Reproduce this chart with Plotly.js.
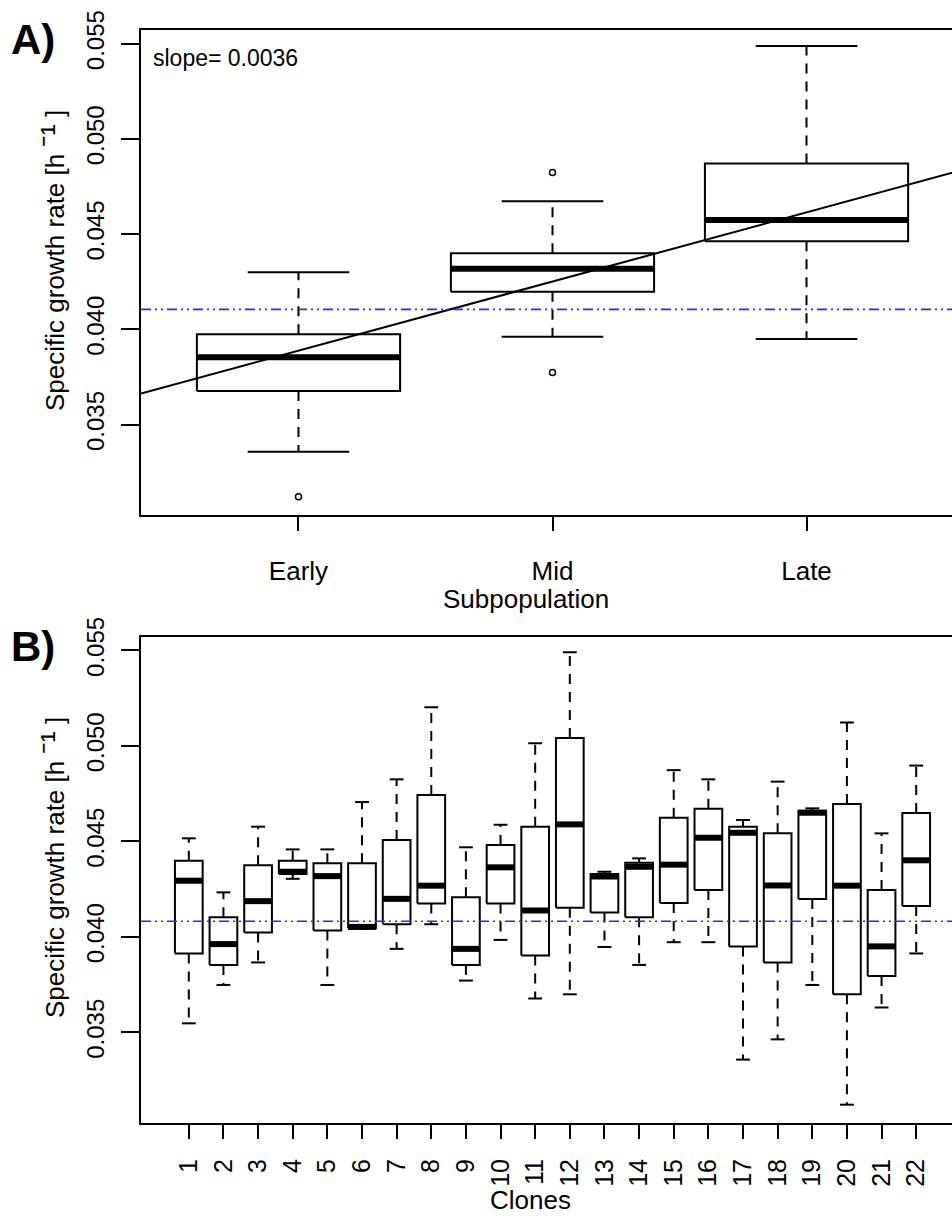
<!DOCTYPE html>
<html>
<head>
<meta charset="utf-8">
<script src="https://cdn.plot.ly/plotly-3.0.1.min.js"></script>
<style>
  html, body { margin: 0; padding: 0; overflow: hidden; background: #fff; }
  #chart { width: 1000px; height: 1222px; }
</style>
</head>
<body>
<div id="chart"></div>
<script>
// ---------- Panel A data: subpopulations ----------
const subpopulations = ["Early", "Mid", "Late"];
const subLower  = [0.03357, 0.03961, 0.03949];
const subQ1     = [0.03676, 0.04197, 0.04463];
const subMedian = [0.03853, 0.04318, 0.04574];
const subQ3     = [0.03974, 0.04399, 0.04871];
const subUpper  = [0.04300, 0.04673, 0.05488];
const subOutlierGroup = ["Early", "Mid", "Mid"];
const subOutlierValue = [0.03121, 0.04824, 0.03774];
const slopeValue = 0.00363;
const interceptValue = 0.03525;
const slopeLabel = "slope= 0.0036";
const meanA = 0.04105;

// ---------- Panel B data: clones ----------
const clones = ["1","2","3","4","5","6","7","8","9","10","11","12","13","14","15","16","17","18","19","20","21","22"];
const cloneUpper  = [0.04516,0.04233,0.04577,0.04458,0.04458,0.04706,0.04825,0.05203,0.04469,0.04587,0.05014,0.05490,0.04341,0.04411,0.04873,0.04825,0.04612,0.04813,0.04673,0.05122,0.04542,0.04897];
const cloneQ3     = [0.04399,0.04102,0.04375,0.04399,0.04385,0.04385,0.04507,0.04743,0.04208,0.04481,0.04577,0.05041,0.04329,0.04388,0.04624,0.04671,0.04577,0.04542,0.04661,0.04696,0.04245,0.04649];
const cloneMedian = [0.04294,0.03962,0.04187,0.04341,0.04318,0.04052,0.04199,0.04268,0.03937,0.04364,0.04138,0.04589,0.04316,0.04367,0.04378,0.04519,0.04545,0.04269,0.04650,0.04268,0.03950,0.04401];
const cloneQ1     = [0.03913,0.03853,0.04023,0.04329,0.04033,0.04045,0.04066,0.04175,0.03853,0.04175,0.03902,0.04152,0.04128,0.04103,0.04177,0.04245,0.03950,0.03866,0.04198,0.03699,0.03795,0.04162];
const cloneLower  = [0.03547,0.03748,0.03866,0.04304,0.03748,0.04045,0.03937,0.04066,0.03771,0.03984,0.03677,0.03699,0.03947,0.03853,0.03972,0.03972,0.03357,0.03463,0.03748,0.03121,0.03630,0.03913];
const meanB = 0.04082;

// ---------- tick labels / titles ----------
const yTickVals = [0.035, 0.040, 0.045, 0.050, 0.055];
const yTickText = ["0.035", "0.040", "0.045", "0.050", "0.055"];
const yTitle = "Specific growth rate [h <span style=\"font-size:34px\">\u207B\u00B9</span> ]";

// ---------- layout geometry ----------
const W = 1000, H = 1222, ML = 141, MR = 36, MT = 30, MB = 99;
const PW = W - ML - MR, PH = H - MT - MB;
const px2x = p => (p - ML) / PW;
const px2y = p => (H - MB - p) / PH;
const FONT = "Liberation Sans, Arial, Helvetica, sans-serif";
const yRange = [0.03025, 0.05572];
const xRangeA = [0.38, 3.62];
const xRangeB = [-0.38, 23.38];
const BOX_HALF = 0.4, CAP_HALF = 0.2;

function boxTraces(cats, lower, q1, med, q3, upper, xa, ya) {
  const rx = [], ry = [], wx = [], wy = [], cx = [], cy = [], mx = [], my = [];
  cats.forEach((c, i) => {
    const p = i + 1;
    rx.push(p - BOX_HALF, p + BOX_HALF, p + BOX_HALF, p - BOX_HALF, p - BOX_HALF, null);
    ry.push(q1[i], q1[i], q3[i], q3[i], q1[i], null);
    wx.push(p, p, null, p, p, null);
    wy.push(q3[i], upper[i], null, q1[i], lower[i], null);
    cx.push(p - CAP_HALF, p + CAP_HALF, null, p - CAP_HALF, p + CAP_HALF, null);
    cy.push(upper[i], upper[i], null, lower[i], lower[i], null);
    mx.push(p - BOX_HALF, p + BOX_HALF, null);
    my.push(med[i], med[i], null);
  });
  const base = {type: "scatter", mode: "lines", xaxis: xa, yaxis: ya, hoverinfo: "skip", showlegend: false};
  return [
    Object.assign({}, base, {x: wx, y: wy, line: {color: "black", width: 2, dash: "10px,8px"}}),
    Object.assign({}, base, {x: cx, y: cy, line: {color: "black", width: 2}}),
    Object.assign({}, base, {x: rx, y: ry, line: {color: "black", width: 2}}),
    Object.assign({}, base, {x: mx, y: my, line: {color: "black", width: 6}})
  ];
}

const traces = [];
traces.push(...boxTraces(subpopulations, subLower, subQ1, subMedian, subQ3, subUpper, "x", "y"));
traces.push({
  type: "scatter", mode: "markers", xaxis: "x", yaxis: "y", showlegend: false,
  x: subOutlierGroup.map(g => subpopulations.indexOf(g) + 1), y: subOutlierValue,
  marker: {symbol: "circle-open", size: 6, color: "black", line: {width: 1.5, color: "black"}}
});
traces.push({
  type: "scatter", mode: "lines", xaxis: "x", yaxis: "y", showlegend: false,
  x: xRangeA, y: xRangeA.map(v => interceptValue + slopeValue * v),
  line: {color: "black", width: 2}
});
traces.push({
  type: "scatter", mode: "lines", xaxis: "x", yaxis: "y", showlegend: false,
  x: xRangeA, y: [meanA, meanA],
  line: {color: "#2a2aff", width: 1.6, dash: "10px,4px,2px,4px,2px,4px"}
});
traces.push(...boxTraces(clones, cloneLower, cloneQ1, cloneMedian, cloneQ3, cloneUpper, "x2", "y2"));
traces.push({
  type: "scatter", mode: "lines", xaxis: "x2", yaxis: "y2", showlegend: false,
  x: xRangeB, y: [meanB, meanB],
  line: {color: "#2a2aff", width: 1.6, dash: "10px,4px,2px,4px,2px,4px"}
});

const axisCommon = {
  showline: true, mirror: true, linewidth: 2, linecolor: "black",
  ticks: "outside", tickwidth: 2, tickcolor: "black",
  showgrid: false, zeroline: false, fixedrange: true
};

const layout = {
  width: W, height: H,
  margin: {l: ML, r: MR, t: MT, b: MB},
  paper_bgcolor: "white", plot_bgcolor: "white",
  showlegend: false,
  font: {family: FONT, size: 24, color: "black"},
  xaxis: Object.assign({}, axisCommon, {
    domain: [0, 1], anchor: "y", range: xRangeA,
    tickmode: "array", tickvals: [1, 2, 3], ticktext: subpopulations,
    ticklen: 14, ticklabelstandoff: 18,
    tickfont: {family: FONT, size: 26, color: "black"}
  }),
  yaxis: Object.assign({}, axisCommon, {
    domain: [px2y(515), 1], anchor: "x", range: yRange,
    tickmode: "array", tickvals: yTickVals, ticktext: yTickText,
    tickangle: -90, ticklen: 18, ticklabelstandoff: 7,
    tickfont: {family: FONT, size: 24, color: "black"}
  }),
  xaxis2: Object.assign({}, axisCommon, {
    domain: [0, 1], anchor: "y2", range: xRangeB,
    tickmode: "array", tickvals: clones.map((c, i) => i + 1), ticktext: clones,
    tickangle: -90, ticklen: 14, ticklabelstandoff: 10,
    tickfont: {family: FONT, size: 25, color: "black"}
  }),
  yaxis2: Object.assign({}, axisCommon, {
    domain: [0, px2y(636.7)], anchor: "x2", range: yRange,
    tickmode: "array", tickvals: yTickVals, ticktext: yTickText,
    tickangle: -90, ticklen: 18, ticklabelstandoff: 7,
    tickfont: {family: FONT, size: 24, color: "black"}
  }),
  annotations: [
    {text: "<b>A)</b>", xref: "paper", yref: "paper", x: px2x(9), y: px2y(40), xanchor: "left", yanchor: "middle", showarrow: false, font: {family: FONT, size: 42, color: "black"}},
    {text: "<b>B)</b>", xref: "paper", yref: "paper", x: px2x(9), y: px2y(647), xanchor: "left", yanchor: "middle", showarrow: false, font: {family: FONT, size: 42, color: "black"}},
    {text: slopeLabel, xref: "paper", yref: "paper", x: px2x(151), y: px2y(58), xanchor: "left", yanchor: "middle", showarrow: false, font: {family: FONT, size: 23, color: "black"}},
    {text: yTitle, xref: "paper", yref: "paper", x: px2x(52), y: px2y(261), xanchor: "center", yanchor: "middle", textangle: -90, showarrow: false, font: {family: FONT, size: 26, color: "black"}},
    {text: yTitle, xref: "paper", yref: "paper", x: px2x(52), y: px2y(868), xanchor: "center", yanchor: "middle", textangle: -90, showarrow: false, font: {family: FONT, size: 26, color: "black"}},
    {text: "Subpopulation", xref: "paper", yref: "paper", x: px2x(526), y: px2y(599), xanchor: "center", yanchor: "middle", showarrow: false, font: {family: FONT, size: 26, color: "black"}},
    {text: "Clones", xref: "paper", yref: "paper", x: px2x(530), y: px2y(1200), xanchor: "center", yanchor: "middle", showarrow: false, font: {family: FONT, size: 26, color: "black"}}
  ]
};

Plotly.newPlot("chart", traces, layout, {staticPlot: true, displayModeBar: false});
</script>
</body>
</html>
